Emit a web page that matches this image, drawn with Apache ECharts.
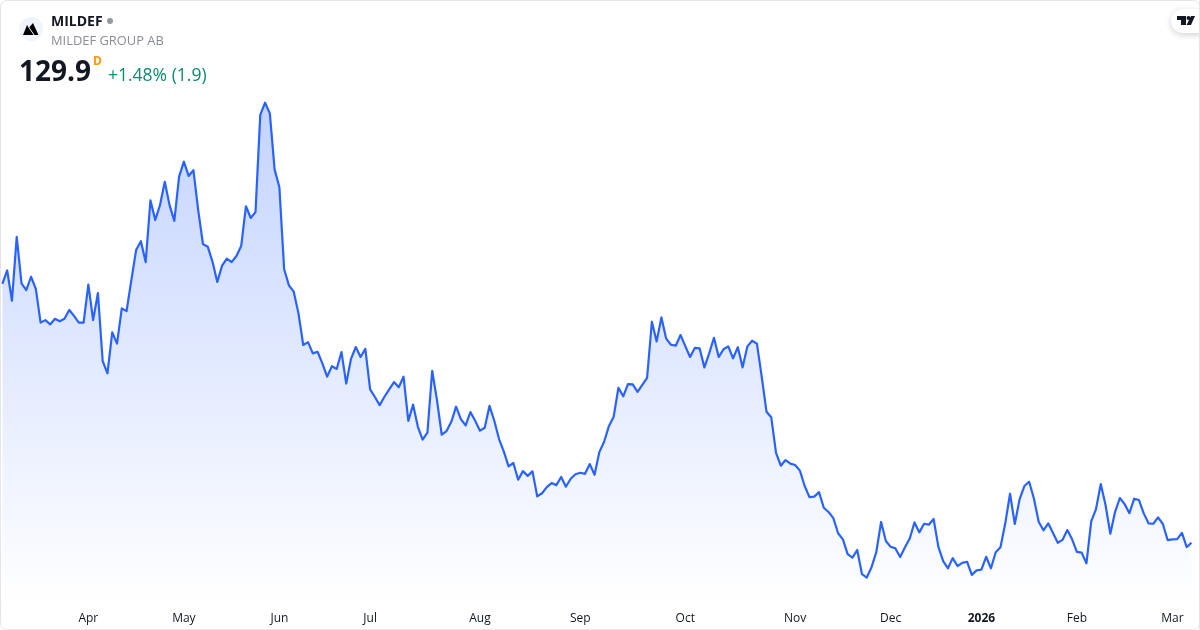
<!DOCTYPE html>
<html>
<head>
<meta charset="utf-8">
<title>MILDEF</title>
<script src="https://cdn.jsdelivr.net/npm/echarts@6/dist/echarts.min.js"></script>
<style>
html,body{margin:0;padding:0;background:#fff;}
#chart{width:1200px;height:630px;}
</style>
</head>
<body>
<div id="chart"></div>
<script>
var prices = [
  244.4,250.4,237.0,265.3,244.7,241.7,247.6,242.2,227.3,228.4,
  226.5,229.0,227.9,229.0,232.9,230.3,227.3,227.3,244.1,228.4,
  240.4,210.3,204.9,223.0,218.0,233.6,232.4,246.1,259.4,263.3,
  254.1,281.4,272.7,279.3,289.6,279.3,272.3,291.9,298.5,292.2,
  294.8,277.1,262.1,260.9,254.2,245.3,252.5,255.6,254.1,256.8,
  261.2,278.8,273.6,276.2,319.2,324.6,319.9,295.1,287.2,250.9,
  243.8,241.0,231.4,217.4,218.7,213.7,214.4,209.3,203.4,208.0,
  206.8,214.3,200.3,211.3,216.5,212.1,215.7,197.8,194.4,190.8,
  194.5,197.8,201.0,198.7,203.4,183.8,191.0,181.2,175.5,178.6,
  206.0,193.0,177.7,179.3,183.4,190.1,184.6,181.8,187.7,183.9,
  179.5,180.8,190.5,183.9,175.8,170.2,163.7,165.2,157.8,161.6,
  159.5,161.5,150.4,151.8,154.5,156.3,155.4,159.0,154.7,158.2,
  160.2,160.9,160.4,164.7,160.0,170.0,174.6,181.5,185.7,198.5,
  194.7,200.1,200.0,196.7,199.8,202.9,227.7,219.0,229.6,220.2,
  217.5,217.1,221.8,216.9,212.1,216.1,215.9,207.5,213.7,220.6,
  212.1,215.5,216.8,211.5,216.4,207.5,216.8,219.3,218.0,203.4,
  187.9,185.4,169.7,164.0,166.5,164.9,164.3,161.8,155.0,150.1,
  150.3,152.3,145.4,143.5,140.8,134.1,131.4,124.9,123.3,126.7,
  116.0,114.5,119.1,125.8,139.1,130.7,128.1,127.4,123.6,127.9,
  131.8,138.9,134.5,138.3,137.9,140.4,128.1,121.8,118.6,123.1,
  119.6,121.0,121.5,115.7,117.7,118.0,123.7,118.6,125.7,127.9,
  138.5,151.6,138.2,149.1,155.0,156.9,149.5,139.2,135.4,138.5,
  134.2,129.9,131.2,135.5,131.4,125.9,125.5,120.8,139.4,144.8,
  155.9,146.6,133.9,143.6,149.7,147.0,143.0,149.4,148.8,142.9,
  138.5,138.3,141.1,138.2,131.1,131.4,131.5,134.3,128.0,129.9
];
// month label -> index of first trading day
var tickLabels = ['Apr','May','Jun','Jul','Aug','Sep','Oct','Nov','Dec','2026','Feb','Mar'];
var tickIndexes = [18,38,58,77,100,121,143,166,186,205,225,245];
var symbol = 'MILDEF';
var company = 'MILDEF GROUP AB';
var lastPrice = '129.9';
var change = '+1.48% (1.9)';

var categories = [];
for(var i=0;i<prices.length;i++){
  var t = tickIndexes.indexOf(i);
  categories.push(t>=0 ? tickLabels[t] : '');
}

var uiFont = '"Open Sans", sans-serif';
var myChart = echarts.init(document.getElementById('chart'),null,{renderer:'canvas'});
var option = {
  animation:false,
  backgroundColor:'#fff',
  grid:{left:2.4,right:8.5,top:0,bottom:0},
  xAxis:{
    type:'category',
    boundaryGap:false,
    data:categories,
    axisLine:{show:false},
    axisTick:{show:false},
    splitLine:{show:false},
    axisLabel:{
      inside:true,
      margin:5,
      interval:function(index){ return tickIndexes.indexOf(index)>=0; },
      hideOverlap:false,
      color:'#131722',
      fontFamily:uiFont,
      fontSize:12,
      formatter:function(v){ return v==='2026' ? '{b|2026}' : v; },
      rich:{b:{fontWeight:'bold',color:'#131722',fontFamily:uiFont,fontSize:12}}
    }
  },
  yAxis:{
    type:'value',
    min:91.3,
    max:370.05,
    show:false,
    splitLine:{show:false}
  },
  series:[{
    type:'line',
    data:prices,
    symbol:'none',
    smooth:false,
    clip:false,
    lineStyle:{color:'#2962ff',width:2.2,join:'round'},
    areaStyle:{
      origin:'start',
      opacity:1,
      color:new echarts.graphic.LinearGradient(0,100,0,605,[
        {offset:0,color:'rgba(41,98,255,0.28)'},
        {offset:1,color:'rgba(41,98,255,0)'}
      ],true)
    }
  }],
  graphic:[
    {type:'rect',silent:true,z:10,shape:{x:0.5,y:0.5,width:1199,height:629,r:6},style:{fill:'none',stroke:'#e6e6e6',lineWidth:1}},
    {type:'circle',silent:true,z:11,shape:{cx:31,cy:29,r:12},style:{fill:'#f0f3fa'}},
    {type:'polygon',silent:true,z:12,shape:{points:[[23,35],[27,25],[29,27.5],[33,23],[38.5,35]]},style:{fill:'#000'}},
    {type:'line',silent:true,z:13,shape:{x1:28,y1:26,x2:34,y2:35},style:{stroke:'#f0f3fa',lineWidth:1}},
    {type:'text',z:12,style:{text:symbol,x:51,y:22,font:'bold 14px '+uiFont,fill:'#131722',textVerticalAlign:'middle'}},
    {type:'circle',silent:true,z:12,shape:{cx:110,cy:21,r:3},style:{fill:'#9598a1'}},
    {type:'text',z:12,style:{text:company,x:51,y:41,font:'12.9px '+uiFont,fill:'#8a8d96',textVerticalAlign:'middle'}},
    {type:'text',z:12,style:{text:lastPrice,x:19,y:73,font:'bold 28px '+uiFont,fill:'#131722',textVerticalAlign:'middle'}},
    {type:'text',z:12,style:{text:'D',x:93,y:62,font:'bold 12px '+uiFont,fill:'#ff9800',textVerticalAlign:'middle'}},
    {type:'text',z:12,style:{text:change,x:108,y:76,font:'17.5px '+uiFont,fill:'#0b8a72',textVerticalAlign:'middle'}},
    {type:'rect',silent:true,z:11,shape:{x:1171,y:9,width:40,height:24,r:12},style:{fill:'#fff',shadowBlur:6,shadowColor:'rgba(0,0,0,0.18)',shadowOffsetY:2}},
    {type:'rect',silent:true,z:11,shape:{x:1199,y:0,width:1,height:630},style:{fill:'#e6e6e6'}},
    {type:'polygon',silent:true,z:12,shape:{points:[[1177,16],[1186,16],[1186,25],[1181,25],[1181,20],[1177,20]]},style:{fill:'#131722'}},
    {type:'circle',silent:true,z:12,shape:{cx:1188.5,cy:18,r:2},style:{fill:'#131722'}},
    {type:'polygon',silent:true,z:12,shape:{points:[[1191,16],[1195,16],[1191,25],[1186.5,25]]},style:{fill:'#131722'}}
  ]
};
myChart.setOption(option);
</script>
</body>
</html>
